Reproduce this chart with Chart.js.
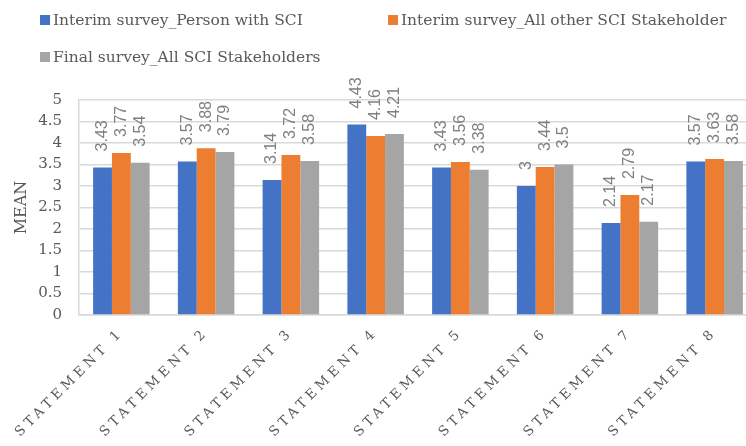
<!DOCTYPE html>
<html>
<head>
<meta charset="utf-8">
<script src="https://cdn.jsdelivr.net/npm/chart.js@4.4.0/dist/chart.umd.min.js"></script>
<style>
  html, body { margin:0; padding:0; background:#fff; overflow:hidden; }
  #wrap { position:absolute; left:0; top:0; width:760px; height:446px; }
</style>
</head>
<body>
<div id="wrap"><canvas id="c"></canvas></div>
<script>
// data
const categories = ['STATEMENT 1','STATEMENT 2','STATEMENT 3','STATEMENT 4','STATEMENT 5','STATEMENT 6','STATEMENT 7','STATEMENT 8'];
const seriesNames = ['Interim survey_Person with SCI', 'Interim survey_All other SCI Stakeholder', 'Final survey_All SCI Stakeholders'];
const personSCI   = [3.43, 3.57, 3.14, 4.43, 3.43, 3,    2.14, 3.57];
const otherStake  = [3.77, 3.88, 3.72, 4.16, 3.56, 3.44, 2.79, 3.63];
const finalStake  = [3.54, 3.79, 3.58, 4.21, 3.38, 3.5,  2.17, 3.58];
const yTicks = [0, 0.5, 1, 1.5, 2, 2.5, 3, 3.5, 4, 4.5, 5];

const TXT = '#595959';
const SERIF = "'DejaVu Serif', serif";
const colors = ['#4472C4', '#ED7D31', '#A5A5A5'];

// rotated value labels above the bars
const valueLabels = {
  id: 'valueLabels',
  afterDatasetsDraw(chart) {
    const ctx = chart.ctx;
    ctx.save();
    ctx.font = "16px 'Liberation Sans', Arial, sans-serif";
    ctx.fillStyle = '#7F7F7F';
    ctx.textAlign = 'left';
    ctx.textBaseline = 'middle';
    chart.data.datasets.forEach((ds, i) => {
      chart.getDatasetMeta(i).data.forEach((bar, j) => {
        ctx.save();
        ctx.translate(bar.x, bar.y - 16);
        ctx.rotate(-Math.PI / 2);
        ctx.fillText(String(ds.data[j]), 0, 0);
        ctx.restore();
      });
    });
    ctx.restore();
  }
};

// two-column legend like the original
const sideLegend = {
  id: 'sideLegend',
  afterDraw(chart) {
    const ctx = chart.ctx;
    const pos = [[40, 20], [388, 20], [40, 57]];
    ctx.save();
    ctx.font = "15.5px " + SERIF;
    ctx.textBaseline = 'middle';
    ctx.textAlign = 'left';
    chart.data.datasets.forEach((ds, i) => {
      const [x, y] = pos[i];
      ctx.fillStyle = ds.backgroundColor;
      ctx.fillRect(x, y - 5, 10, 10);
      ctx.fillStyle = TXT;
      ctx.fillText(ds.label, x + 13, y + 1);
    });
    ctx.restore();
  }
};

// letter-spaced category labels
const spacedX = {
  id: 'spacedX',
  beforeDraw(chart) {
    const xs = chart.scales.x;
    if (xs && !xs._spaced) {
      const orig = xs.drawLabels.bind(xs);
      xs.drawLabels = function(area) {
        this.ctx.save();
        this.ctx.letterSpacing = '4px';
        orig(area);
        this.ctx.restore();
      };
      xs._spaced = true;
    }
  }
};

new Chart(document.getElementById('c'), {
  type: 'bar',
  data: {
    labels: categories,
    datasets: [
      { label: seriesNames[0], data: personSCI,  backgroundColor: colors[0] },
      { label: seriesNames[1], data: otherStake, backgroundColor: colors[1] },
      { label: seriesNames[2], data: finalStake, backgroundColor: colors[2] },
    ]
  },
  options: {
    responsive: true,
    maintainAspectRatio: false,
    animation: false,
    layout: { padding: { top: 100, right: 3, left: 0, bottom: 0 } },
    plugins: { legend: { display: false }, tooltip: { enabled: false } },
    datasets: { bar: { categoryPercentage: 3 / 4.5, barPercentage: 1 } },
    scales: {
      x: {
        grid: { display: false },
        border: { display: true, color: '#D9D9D9', width: 1.5 },
        ticks: { color: TXT, font: { family: SERIF, size: 13.5 }, minRotation: 45, maxRotation: 45, padding: 2, autoSkip: false },
        afterFit(s) { s.height = 131; }
      },
      y: {
        min: 0, max: 5,
        afterBuildTicks(s) { s.ticks = yTicks.map(v => ({ value: v })); },
        grid: { color: '#D9D9D9', lineWidth: 1.5, drawTicks: false },
        border: { display: true, color: '#D9D9D9', width: 1.5 },
        ticks: { color: TXT, font: { family: SERIF, size: 15 }, padding: 17, callback: v => String(v) },
        title: { display: true, text: 'MEAN', color: TXT, font: { family: SERIF, size: 16 }, padding: { top: 12, bottom: 0 } },
        afterFit(s) { s.width = 79; }
      }
    }
  },
  plugins: [valueLabels, sideLegend, spacedX]
});
</script>
</body>
</html>
